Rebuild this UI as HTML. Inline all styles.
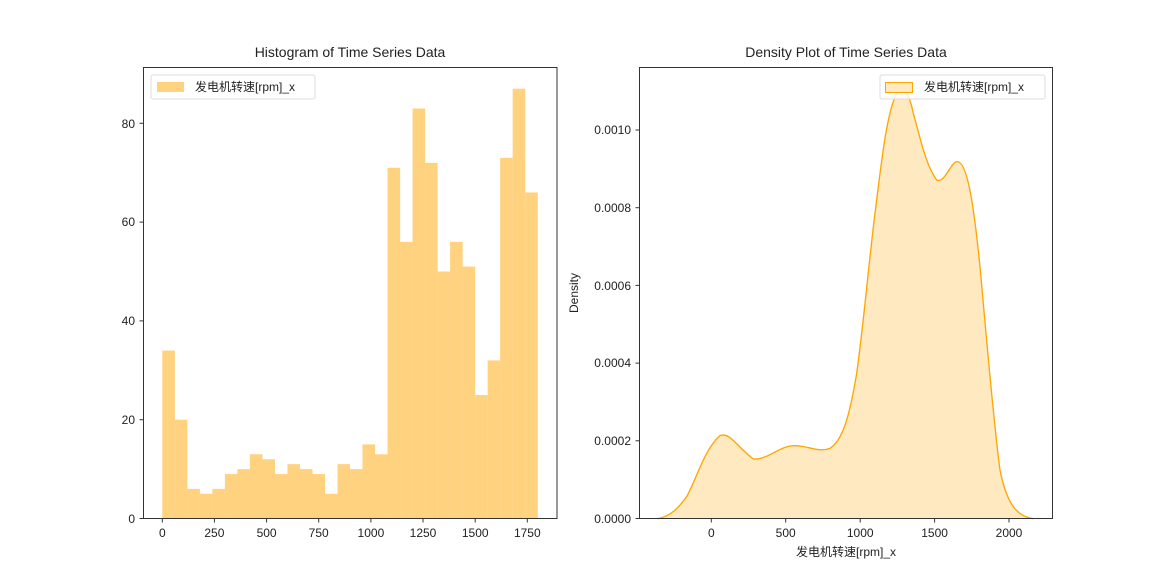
<!DOCTYPE html>
<html><head><meta charset="utf-8"><style>
body{margin:0;background:#fff}
svg text{font-family:"Liberation Sans","Noto Sans CJK SC",sans-serif;fill:#222}
</style></head><body>
<svg id="s" width="1164" height="581" viewBox="0 0 1164 581" xmlns="http://www.w3.org/2000/svg">
<rect width="1164" height="581" fill="#fff"/>
<g id="bars"></g>
<!-- left axes -->
<rect x="143.5" y="67.5" width="413.5" height="451" fill="none" stroke="#333" stroke-width="1"/>
<g stroke="#333" stroke-width="1">
<line x1="143.5" x2="139.5" y1="518.5" y2="518.5"/><line x1="143.5" x2="139.5" y1="419.7" y2="419.7"/>
<line x1="143.5" x2="139.5" y1="320.9" y2="320.9"/><line x1="143.5" x2="139.5" y1="222.1" y2="222.1"/>
<line x1="143.5" x2="139.5" y1="123.3" y2="123.3"/>
<line y1="518.5" y2="522.5" x1="162.3" x2="162.3"/><line y1="518.5" y2="522.5" x1="214.4" x2="214.4"/>
<line y1="518.5" y2="522.5" x1="266.6" x2="266.6"/><line y1="518.5" y2="522.5" x1="318.7" x2="318.7"/>
<line y1="518.5" y2="522.5" x1="370.9" x2="370.9"/><line y1="518.5" y2="522.5" x1="423.0" x2="423.0"/>
<line y1="518.5" y2="522.5" x1="475.2" x2="475.2"/><line y1="518.5" y2="522.5" x1="527.3" x2="527.3"/>
</g>
<g font-size="12" text-anchor="end">
<text x="135" y="523">0</text><text x="135" y="424">20</text><text x="135" y="325">40</text>
<text x="135" y="226">60</text><text x="135" y="128">80</text>
</g>
<g font-size="12" text-anchor="middle">
<text x="162.3" y="537">0</text><text x="214.4" y="537">250</text><text x="266.6" y="537">500</text>
<text x="318.7" y="537">750</text><text x="370.9" y="537">1000</text><text x="423" y="537">1250</text>
<text x="475.2" y="537">1500</text><text x="527.3" y="537">1750</text>
</g>
<text x="350" y="57" font-size="14" text-anchor="middle">Histogram of Time Series Data</text>
<rect x="151" y="75" width="164" height="24" rx="2" fill="#fff" stroke="#ddd"/>
<rect x="157" y="82" width="27" height="10" fill="#ffd280"/>
<text x="195" y="91" font-size="12">发电机转速[rpm]_x</text>

<!-- right axes -->
<g transform="translate(620,60) scale(0.33333)">
<path d="M113,1376 C150,1370 175,1345 200,1310 C230,1255 255,1165 300,1127 C330,1115 350,1160 400,1197 C440,1200 470,1165 510,1158 C560,1152 590,1180 630,1165 C670,1140 690,1060 710,940 C730,800 745,620 765,460 C785,300 800,160 830,100 C850,75 865,90 880,160 C900,230 915,310 950,360 C975,370 990,310 1010,305 C1040,300 1060,420 1080,620 C1100,840 1120,1080 1140,1230 C1160,1330 1190,1370 1240,1376 Z" fill="#ffe9c0" stroke="none"/>
<path d="M113,1376 C150,1370 175,1345 200,1310 C230,1255 255,1165 300,1127 C330,1115 350,1160 400,1197 C440,1200 470,1165 510,1158 C560,1152 590,1180 630,1165 C670,1140 690,1060 710,940 C730,800 745,620 765,460 C785,300 800,160 830,100 C850,75 865,90 880,160 C900,230 915,310 950,360 C975,370 990,310 1010,305 C1040,300 1060,420 1080,620 C1100,840 1120,1080 1140,1230 C1160,1330 1190,1370 1240,1376" fill="none" stroke="#ffa500" stroke-width="4"/>
</g>
<rect x="639.5" y="67.5" width="413" height="451" fill="none" stroke="#333" stroke-width="1"/>
<g stroke="#333" stroke-width="1">
<line x1="639.5" x2="635.5" y1="518.5" y2="518.5"/><line x1="639.5" x2="635.5" y1="440.8" y2="440.8"/>
<line x1="639.5" x2="635.5" y1="363.1" y2="363.1"/><line x1="639.5" x2="635.5" y1="285.4" y2="285.4"/>
<line x1="639.5" x2="635.5" y1="207.7" y2="207.7"/><line x1="639.5" x2="635.5" y1="130" y2="130"/>
<line y1="518.5" y2="522.5" x1="711.3" x2="711.3"/><line y1="518.5" y2="522.5" x1="785.7" x2="785.7"/>
<line y1="518.5" y2="522.5" x1="860.2" x2="860.2"/><line y1="518.5" y2="522.5" x1="934.6" x2="934.6"/>
<line y1="518.5" y2="522.5" x1="1009" x2="1009"/>
</g>
<g font-size="12" text-anchor="end">
<text x="631" y="523">0.0000</text><text x="631" y="445">0.0002</text><text x="631" y="367">0.0004</text>
<text x="631" y="290">0.0006</text><text x="631" y="212">0.0008</text><text x="631" y="134">0.0010</text>
</g>
<g font-size="12" text-anchor="middle">
<text x="711.3" y="537">0</text><text x="785.7" y="537">500</text><text x="860.2" y="537">1000</text>
<text x="934.6" y="537">1500</text><text x="1009" y="537">2000</text>
</g>
<text x="846" y="556" font-size="12" text-anchor="middle">发电机转速[rpm]_x</text>
<text transform="translate(578,293) rotate(-90)" font-size="12" text-anchor="middle">Density</text>
<text x="846" y="57" font-size="14" text-anchor="middle">Density Plot of Time Series Data</text>
<rect x="880" y="75" width="165" height="24" rx="2" fill="#fff" fill-opacity="0.8" stroke="#ddd"/>
<rect x="885.5" y="82.5" width="27" height="10" fill="#ffe9c0" stroke="#ffa500"/>
<text x="924" y="91" font-size="12">发电机转速[rpm]_x</text>
</svg>
<script>
var h=[34,20,6,5,6,9,10,13,12,9,11,10,9,5,11,10,15,13,71,56,83,72,50,56,51,25,32,73,87,66];
var g=document.getElementById('bars'),s='';
for(var i=0;i<h.length;i++){var x=162.3+12.513*i,hh=h[i]*4.94;
s+='<rect x="'+x.toFixed(2)+'" y="'+(518.5-hh).toFixed(2)+'" width="12.6" height="'+hh.toFixed(2)+'" fill="#ffd280"/>';}
g.innerHTML=s;
</script>
</body></html>
